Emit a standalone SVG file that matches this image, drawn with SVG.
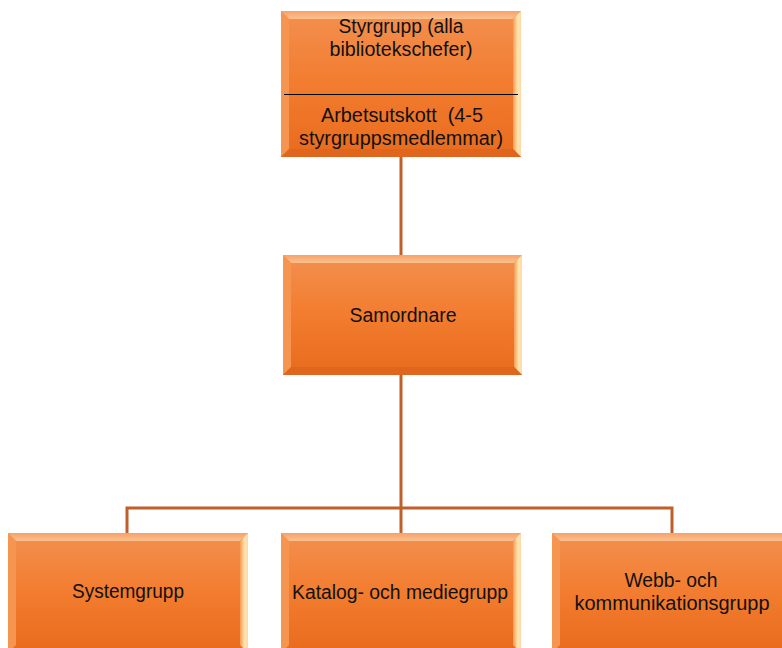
<svg xmlns="http://www.w3.org/2000/svg" width="782" height="648" viewBox="0 0 782 648">
<style>
.t{font-family:"Liberation Sans",Arial,sans-serif;font-size:20px;fill:#111;text-anchor:middle}
.face{fill:url(#gFace)}
.top{fill:url(#gTop)}
.left{fill:#f5954f}
.right{fill:url(#gRight)}
.bot{fill:#e0661d}
.conn{stroke:#bf5f2a;stroke-width:3;fill:none}
</style>
<defs>
<linearGradient id="gFace" x1="0" y1="0" x2="0" y2="1">
<stop offset="0" stop-color="#f3904f"/>
<stop offset="0.5" stop-color="#f27c2f"/>
<stop offset="1" stop-color="#e96b1d"/>
</linearGradient>
<linearGradient id="gTop" x1="0" y1="0" x2="0" y2="1">
<stop offset="0" stop-color="#f6a26a"/>
<stop offset="1" stop-color="#fbc08e"/>
</linearGradient>
<linearGradient id="gRight" x1="0" y1="0" x2="1" y2="0">
<stop offset="0" stop-color="#f39a52"/>
<stop offset="0.6" stop-color="#ffe6b0"/>
<stop offset="1" stop-color="#ffd7a6"/>
</linearGradient>
</defs>
<g id="connectors">
<line class="conn" x1="401" y1="157" x2="401" y2="255"/>
<line class="conn" x1="401" y1="375" x2="401" y2="533"/>
<polyline class="conn" points="127,533 127,508 672,508 672,533"/>
</g>
<g id="styrgrupp">
<rect class="face" x="281" y="11" width="240" height="146"/>
<polygon class="top" points="281,11 521,11 513,19 289,19"/>
<polygon class="left" points="281,11 289,19 289,149 281,157"/>
<polygon class="right" points="521,11 521,157 513,149 513,19"/>
<polygon class="bot" points="281,157 289,149 513,149 521,157"/>
<line x1="284" y1="94.5" x2="518" y2="94.5" stroke="#000" stroke-width="1.2"/>
<text class="t" x="401" y="33" textLength="125" lengthAdjust="spacingAndGlyphs">Styrgrupp (alla</text>
<text class="t" x="401" y="56" textLength="143" lengthAdjust="spacingAndGlyphs">bibliotekschefer)</text>
<text class="t" x="402" y="122" textLength="162" lengthAdjust="spacingAndGlyphs" xml:space="preserve">Arbetsutskott  (4-5</text>
<text class="t" x="401" y="145" textLength="204" lengthAdjust="spacingAndGlyphs">styrgruppsmedlemmar)</text>
</g>
<g id="samordnare">
<rect class="face" x="283" y="255" width="239" height="120"/>
<polygon class="top" points="283,255 522,255 514,263 291,263"/>
<polygon class="left" points="283,255 291,263 291,367 283,375"/>
<polygon class="right" points="522,255 522,375 514,367 514,263"/>
<polygon class="bot" points="283,375 291,367 514,367 522,375"/>
<text class="t" x="403" y="322" textLength="107" lengthAdjust="spacingAndGlyphs">Samordnare</text>
</g>
<g id="systemgrupp">
<rect class="face" x="8" y="533" width="240" height="120"/>
<polygon class="top" points="8,533 248,533 240,541 16,541"/>
<polygon class="left" points="8,533 16,541 16,645 8,653"/>
<polygon class="right" points="248,533 248,653 240,645 240,541"/>
<text class="t" x="128" y="598" textLength="112" lengthAdjust="spacingAndGlyphs">Systemgrupp</text>
</g>
<g id="katalog">
<rect class="face" x="281" y="533" width="240" height="120"/>
<polygon class="top" points="281,533 521,533 513,541 289,541"/>
<polygon class="left" points="281,533 289,541 289,645 281,653"/>
<polygon class="right" points="521,533 521,653 513,645 513,541"/>
<text class="t" x="400" y="599" textLength="216" lengthAdjust="spacingAndGlyphs">Katalog- och mediegrupp</text>
</g>
<g id="webb">
<rect class="face" x="552" y="533" width="240" height="120"/>
<polygon class="top" points="552,533 792,533 784,541 560,541"/>
<polygon class="left" points="552,533 560,541 560,645 552,653"/>
<text class="t" x="671" y="587" textLength="93" lengthAdjust="spacingAndGlyphs">Webb- och</text>
<text class="t" x="672" y="610" textLength="195" lengthAdjust="spacingAndGlyphs">kommunikationsgrupp</text>
</g>
</svg>
